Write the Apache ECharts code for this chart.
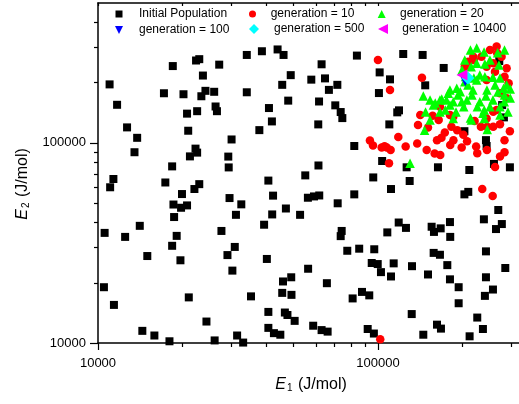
<!DOCTYPE html>
<html><head><meta charset="utf-8">
<script src="https://cdn.jsdelivr.net/npm/echarts@6/dist/echarts.min.js"></script>
<style>html,body{margin:0;padding:0;background:#fff}#c{width:519px;height:404px}</style>
</head><body><div id="c"></div>
<script>
// ---- axis ticks / labels ----
const xMajorTicks = [10000, 100000];
const xMinorTicks = [20000,30000,40000,50000,60000,70000,80000,90000,200000,300000];
const yMajorTicks = [10000, 100000];
const yMinorTicks = [20000,30000,40000,50000,60000,70000,80000,90000,200000,300000,400000];
const xRange = [10000, 319000];
const yRange = [10000, 500000];

// ---- series names ----
const seriesNames = ['Initial Population','generation = 10','generation = 20','generation = 100','generation = 500','generation = 10400'];

// ---- data: [E1, E2] in J/mol ----
const initialPopulation = [
[11000,196000],[11700,155000],[12700,119500],[13800,106000],[13500,89800],[11350,66000],[11050,60000],[18500,242000],[17200,177000],[22400,258000],[23000,262000],[23700,217000],[27100,246000],[20200,175000],[24200,182000],[23400,171000],[26000,180000],[26300,152000],[26600,144000],[20800,140000],[22600,144000],[21000,115000],[30000,104000],[22300,93600],[22600,89400],[21300,85600],[29200,85400],[29300,75400],[18400,76300],[23000,62200],[22100,58800],[17400,63400],[19950,55500],[29500,53000],[34000,275000],[34000,179000],[37700,115800],[18600,49200],[19800,47400],[20800,48700],[18700,42600],[32500,49300],[31100,43700],[10560,35500],[12500,33900],[14100,38500],[19100,34300],[18400,30600],[15000,27200],[19700,25900],[27600,36300],[30800,30200],[29000,27500],[30200,23000],[10500,19000],[11400,15500],[21100,16900],[35200,17100],[24400,12800],[14400,11500],[15900,10900],[18000,10200],[26100,10300],[31400,10900],[33000,10050],
[38500,287000],[43800,293000],[46000,275000],[84100,273000],[62900,247000],[48800,218000],[45500,195000],[57800,207000],[64700,210000],[71600,195000],[66800,184000],[47800,162600],[61600,161000],[70400,154000],[73600,142600],[74600,133000],[40800,149300],[41800,128000],[61200,123700],[101400,225000],[100800,177400],[82300,96500],[61300,77100],[55000,68800],[40600,64800],[42200,54500],[56200,53200],[59100,54000],[61700,54600],[82300,55300],[103500,81200],[96200,67200],
[111300,58800],[129800,64500],[41900,43900],[39200,39000],[46900,47000],[52700,43700],[71800,49900],[118600,40000],[125900,37600],[108000,35700],[74200,36300],[73600,34200],[155500,38100],[158500,35900],[167500,37400],[180800,40200],[181200,33900],[203600,55300],[210200,56900],[269000,46200],[239000,41500],[277000,39300],[264000,37100],[40100,26300],[56300,23500],[77700,28900],[85700,29600],[97000,29400],[95000,25100],[99800,24800],[102500,22600],[113800,25000],[111300,21500],[132300,24200],[150900,22000],[158100,28200],[166500,27600],[176900,24500],[180800,20800],[194200,19000],[194200,15800],[243100,28700],[243100,21300],[285000,23700],[257500,18500],[241000,17200],[45800,20300],[49000,21300],[45500,17800],[49100,17400],[65700,19900],[87700,18000],[93100,17300],[81200,16700],[40600,14300],[46500,14200],[47500,13800],[50400,12900],[58700,12200],[62900,11600],[66100,11400],[40600,11900],[42500,11200],[44800,11000],[91900,11750],[96700,11150],[132000,13950],[145200,11000],[162500,12350],[167900,11800],[226300,13400],[237100,11750],[212500,10800],
[123100,278000],[144400,275000],[110400,207700],[147500,193900],[171700,236800],[118900,145400],[117200,142100],[109800,123700],[281800,134100],[243100,103200],[244400,96500],[163800,75500],[212000,73200],[259600,78500],[203600,114400],[277700,154500],[271200,256600],[296000,75500],[126600,75500]
];

const generation10 = [
[100000,259600],[110400,183700],[93600,102900],[96000,97000],[103100,94900],[105600,96300],[109500,79000],[101900,10430],[235800,58800],[256900,54200],[143600,211600],[141600,137700],[164800,130000],[183000,120300],[173300,112800],[168600,106000],[162500,103200],[138100,99300],[125600,95800],[118200,107000],[107500,94900],[111000,92100],[159400,88400],[166900,87000],[181200,97600],[199100,94900],[208100,101800],[201800,109800],[226300,88700],[233200,120300],[245700,120300],[258100,120300],[272900,123900],[265400,145900],[221400,128600],[191900,115800],[272900,85400],[156800,136600],[251200,291300],[265400,302800],[234300,269600],[276400,269600],[219000,269600],[288200,236000],[261800,227000],[244400,206100],[292900,198500],[272900,176800],[288200,166900],[258100,143100],[166500,151500],[180800,137700],[185800,134900],[244400,132500],[210200,254600],[204200,240000],[244400,240000],[258100,250000],[283200,214200],[220200,259600],[266700,280300],[296000,114400],[283200,89800],[245100,92100],[283200,103200],[150900,119500],[186000,103200],[224200,96000],[262000,75700],[149300,92100],[139000,122700]
];

const generation20 = [
[214000,291300],[225200,298000],[239300,284600],[267600,282300],[283200,291300],[251200,259600],[270500,245000],[225200,250000],[204200,259600],[199600,231300],[215300,240000],[231100,218400],[240900,214200],[257500,213000],[272900,210900],[288200,194600],[280900,187500],[283200,173400],[268300,179500],[245100,183700],[218400,183700],[225200,206100],[204200,202200],[191200,187500],[196800,180000],[178300,176800],[175600,163700],[166500,163700],[185800,160600],[207800,163700],[231100,160600],[257500,163700],[282500,160600],[157700,154500],[153500,163700],[180800,154500],[199100,160600],[202500,151500],[226400,151500],[251200,151500],[272900,151500],[239700,145900],[214000,133000],[237100,140800],[215700,130000],[185800,132500],[153500,130000],[146700,115800],[245700,116800],[239700,132500],[145200,171400],[130200,79000],[147900,142600],[166500,142600],[174000,145900],[190000,142600],[160200,158000],[272900,137700],[291300,142600],[296800,167600],[296800,186000],[209600,194600],[193100,173400],[216600,173400],[243100,171400],[262000,194600],[220100,210900],[205700,214600],[180800,183700],[169000,165600],[240900,247800]
];

const generation100 = [[205000,203000]];
const generation500 = [[209600,210900]];
const generation10400 = [[199500,218400]];

const FONT = '"Liberation Sans", Arial, sans-serif';
const DOWN_TRI = 'path://M0,0L10,0L5,10Z';
const LEFT_TRI = 'path://M10,0L10,10L0,5Z';
const chart = echarts.init(document.getElementById('c'), null, {renderer:'canvas'});
const fmt = v => String(Math.round(v));

function legendItem(name, left, top, size, pad, icon) {
  const d = icon ? {name:name, icon:icon} : name;
  return {
    data:[d], left:left, top:top, padding:0, itemWidth:size, itemHeight:size,
    selectedMode:false,
    textStyle:{fontSize:12, color:'#000', fontFamily:FONT, padding:[0,0,0,pad]}
  };
}

const titleRich = {
  i:{fontStyle:'italic', fontSize:16, lineHeight:16, fontFamily:FONT, color:'#000', verticalAlign:'top'},
  s:{fontSize:10, lineHeight:10, fontFamily:FONT, color:'#000', padding:[6,1,0,1], verticalAlign:'top'},
  t:{fontSize:16, lineHeight:16, fontFamily:FONT, color:'#000', verticalAlign:'top'}
};

const axisLineStyle = {color:'#000', width:1.5};

const option = {
  animation:false,
  backgroundColor:'#fff',
  textStyle:{fontFamily:FONT},
  grid:{left:98, top:3, right:0, bottom:61, containLabel:false, outerBoundsMode:'none'},
  legend:[
    legendItem(seriesNames[0], 115.5, 8, 7, 11.5),
    legendItem(seriesNames[3], 115, 24, 8, 11, DOWN_TRI),
    legendItem(seriesNames[1], 249, 8, 7, 9.7),
    legendItem(seriesNames[4], 249, 23, 10, 10),
    legendItem(seriesNames[2], 377.7, 8, 8, 9.3),
    legendItem(seriesNames[5], 378, 23, 10, 9.3, LEFT_TRI)
  ],
  xAxis:[
    {type:'log', logBase:10, min:xRange[0], max:xRange[1], position:'bottom',
     name:'{i|E}{s|1}{t| (J/mol)}', nameLocation:'middle', nameGap:34,
     nameTextStyle:{rich:titleRich, padding:[0,0,0,5]},
     axisLine:{show:true, lineStyle:axisLineStyle},
     axisTick:{show:true, inside:false, length:7, customValues:xMajorTicks, lineStyle:{color:'#000', width:1.2}},
     axisLabel:{show:true, customValues:xMajorTicks, formatter:fmt, fontSize:13, color:'#000', fontFamily:FONT, margin:14},
     splitLine:{show:false}, minorTick:{show:false}},
    {type:'log', logBase:10, min:xRange[0], max:xRange[1], position:'bottom',
     axisLine:{show:false},
     axisTick:{show:true, inside:false, length:4, customValues:xMinorTicks, lineStyle:{color:'#000', width:1.2}},
     axisLabel:{show:false}, splitLine:{show:false}},
    {type:'log', logBase:10, min:xRange[0], max:xRange[1], position:'top',
     axisLine:{show:true, lineStyle:axisLineStyle},
     axisTick:{show:true, inside:true, length:3, customValues:xMajorTicks.concat(xMinorTicks), lineStyle:{color:'#000', width:1.2}},
     axisLabel:{show:false}, splitLine:{show:false}}
  ],
  yAxis:[
    {type:'log', logBase:10, min:yRange[0], max:yRange[1], position:'left',
     name:'{i|E}{s|2}{t| (J/mol)}', nameLocation:'middle', nameGap:67,
     nameTextStyle:{rich:titleRich, padding:[0,22,0,0]},
     axisLine:{show:true, lineStyle:axisLineStyle},
     axisTick:{show:true, inside:false, length:8, customValues:yMajorTicks, lineStyle:{color:'#000', width:1.2}},
     axisLabel:{show:true, customValues:yMajorTicks, formatter:fmt, fontSize:13, color:'#000', fontFamily:FONT, margin:12},
     splitLine:{show:false}},
    {type:'log', logBase:10, min:yRange[0], max:yRange[1], position:'left',
     axisLine:{show:false},
     axisTick:{show:true, inside:false, length:4, customValues:yMinorTicks, lineStyle:{color:'#000', width:1.2}},
     axisLabel:{show:false}, splitLine:{show:false}}
  ],
  series:[
    {name:seriesNames[0], type:'scatter', data:initialPopulation, symbol:'rect', symbolSize:8,
     itemStyle:{color:'#000', opacity:1}},
    {name:seriesNames[1], type:'scatter', data:generation10, symbol:'circle', symbolSize:8.5,
     itemStyle:{color:'#ff0000', opacity:1}},
    {name:seriesNames[2], type:'scatter', data:generation20, symbol:'triangle', symbolSize:9.5,
     itemStyle:{color:'#00ff00', opacity:1}},
    {name:seriesNames[3], type:'scatter', data:generation100, symbol:DOWN_TRI, symbolSize:10,
     itemStyle:{color:'#0000ff', opacity:1}},
    {name:seriesNames[4], type:'scatter', data:generation500, symbol:'diamond', symbolSize:13,
     itemStyle:{color:'#00ffff', opacity:1}},
    {name:seriesNames[5], type:'scatter', data:generation10400, symbol:LEFT_TRI, symbolSize:11,
     itemStyle:{color:'#ff00ff', opacity:1}}
  ]
};
option.series.forEach(s => { s.xAxisIndex = 0; s.yAxisIndex = 0; s.emphasis = {disabled:true}; s.silent = true; });
chart.setOption(option);
</script>
</body></html>
